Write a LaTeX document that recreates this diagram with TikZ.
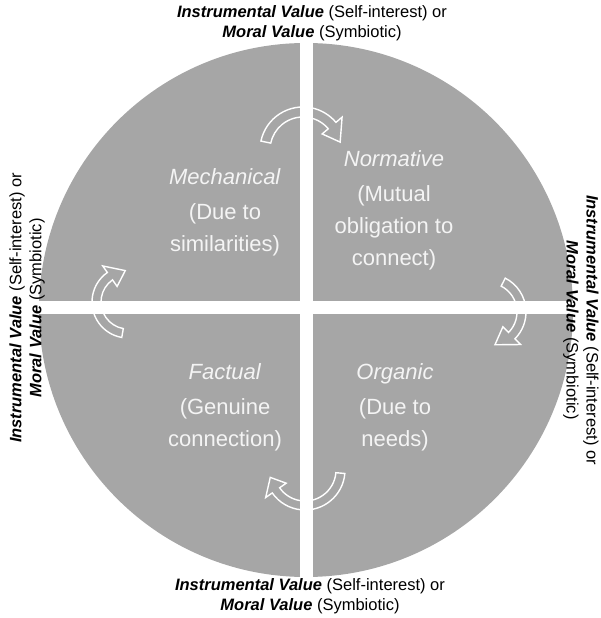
\documentclass[tikz,border=0pt]{standalone}
\usepackage{fontspec}
\setmainfont{Liberation Sans}
\definecolor{qgray}{HTML}{A6A6A6}
\definecolor{qtext}{HTML}{F4F4F4}
\newcommand\blockarc[7]{%
  \pgfmathsetmacro\arrMid{(#5+#6)/2}%
  \pgfmathsetmacro\arrWo{#5+8}%
  \pgfmathsetmacro\arrWi{#6-8}%
  \draw[arrowshape] ([shift={(#1,#2)}]#3:#5) arc[start angle=#3, end angle=#4, radius=#5]
    -- ([shift={(#1,#2)}]#4:\arrWo) -- ([shift={(#1,#2)}]#7:\arrMid)
    -- ([shift={(#1,#2)}]#4:\arrWi) -- ([shift={(#1,#2)}]#4:#6)
    arc[start angle=#4, end angle=#3, radius=#6] -- cycle;
}
\tikzset{
  arrowshape/.style={fill=qgray, draw=white, line width=1.4pt, line join=miter},
  quadtext/.style={text=qtext, align=center, font=\fontsize{22}{32}\selectfont},
  outertext/.style={align=center, font=\fontsize{16.5}{20}\selectfont, inner sep=0pt}
}
\begin{document}
\begin{tikzpicture}[x=1pt,y=1pt]
\useasboundingbox (0,0) rectangle (601,618);
% circle
\fill[qgray] (306,308) circle (267);
% curved arrows
\blockarc{303}{468}{168}{40}{43}{33}{12}
\blockarc{488}{306}{63}{-45}{38}{29}{-78}
\blockarc{305}{148}{-5}{-145}{40}{31}{-168}
\blockarc{128}{316}{260}{125}{36}{27}{95}
% white gaps
\begin{scope}
\clip (306,308) circle (268);
\fill[white] (299.5,30) rectangle (312.5,590);
\fill[white] (30,303.5) rectangle (582,316.5);
\end{scope}
% quadrant texts
\node[quadtext] (mech) at (225,406) {\textit{Mechanical}\\[3pt](Due to\\similarities)};
\node[quadtext] (norm) at (394,408) {\textit{Normative}\\[3pt](Mutual\\obligation to\\connect)};
\node[quadtext] (fact) at (225,211) {\textit{Factual}\\[3pt](Genuine\\connection)};
\node[quadtext] (org) at (395,211) {\textit{Organic}\\[3pt](Due to\\needs)};
% outer labels
\node[outertext] (top) at (312,595) {\textbf{\textit{Instrumental Value}} (Self-interest) or\\\textbf{\textit{Moral Value}} (Symbiotic)};
\node[outertext] (bot) at (310,22) {\textbf{\textit{Instrumental Value}} (Self-interest) or\\\textbf{\textit{Moral Value}} (Symbiotic)};
\node[outertext, rotate=90] (left) at (27,310) {\textbf{\textit{Instrumental Value}} (Self-interest) or\\\textbf{\textit{Moral Value}} (Symbiotic)};
\node[outertext, rotate=-90] (right) at (581,288) {\textbf{\textit{Instrumental Value}} (Self-interest) or\\\textbf{\textit{Moral Value}} (Symbiotic)};
\end{tikzpicture}
\end{document}
